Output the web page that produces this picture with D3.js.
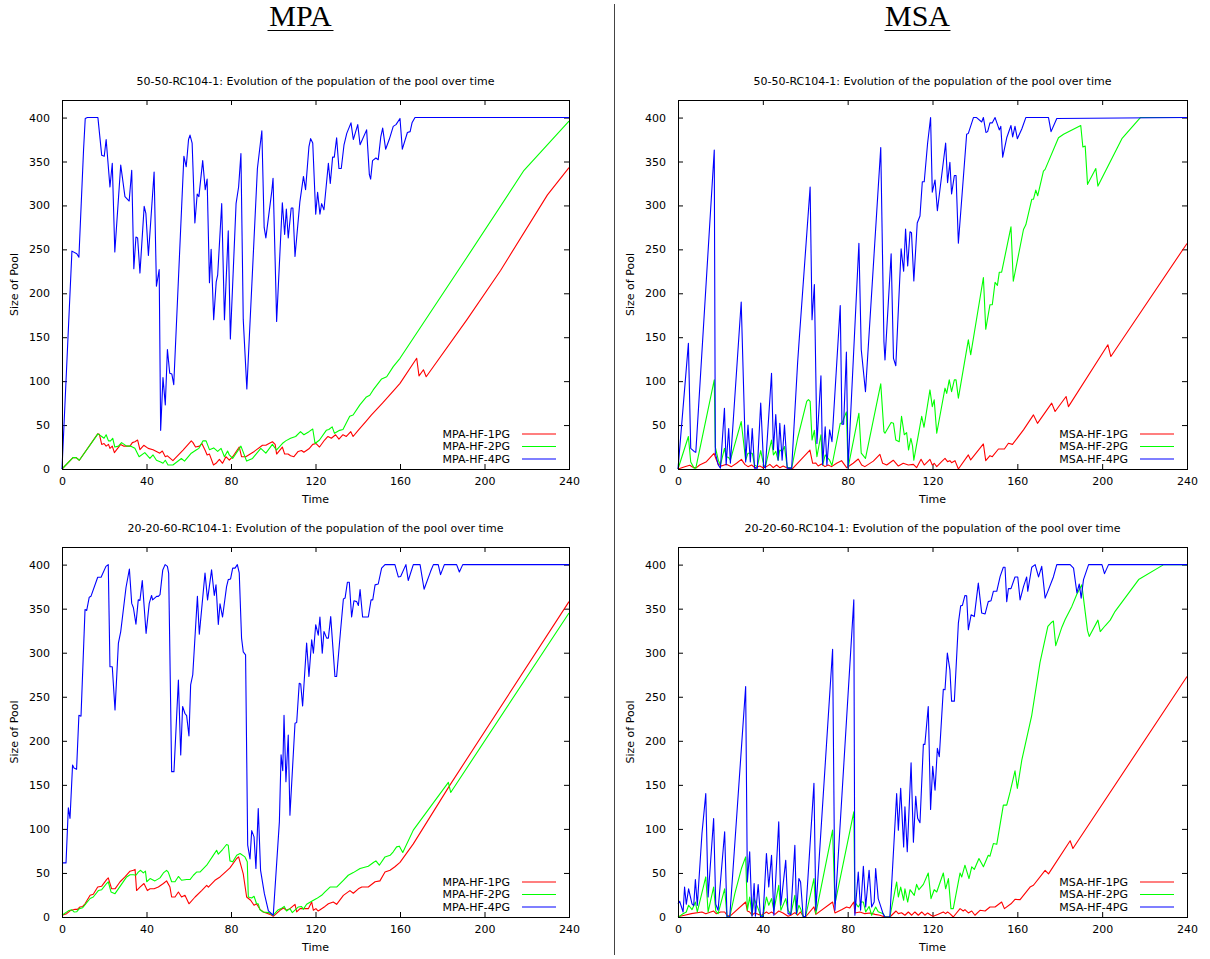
<!DOCTYPE html>
<html><head><meta charset="utf-8">
<script src="https://cdn.jsdelivr.net/npm/d3@7"></script>
<style>body{margin:0;background:#fff}svg{display:block}</style>
</head><body><svg id="c" width="1210" height="959"></svg>
<script>
const xTicks=[0,40,80,120,160,200,240];
const yTicks=[0,50,100,150,200,250,300,350,400];
const headers=["MPA","MSA"];
const subtitles=["50-50-RC104-1: Evolution of the population of the pool over time","20-20-60-RC104-1: Evolution of the population of the pool over time"];
const namesMPA=["MPA-HF-1PG","MPA-HF-2PG","MPA-HF-4PG"];
const namesMSA=["MSA-HF-1PG","MSA-HF-2PG","MSA-HF-4PG"];
const xLabel="Time", yLabel="Size of Pool";

// [time, size] pairs
const mpaA_1PG=[[0,0],[5.2,13],[6.7,13],[8.2,10],[16.9,40],[17.7,39.5],[18.8,28],[19.9,29],[20.9,26],[22,28],[22.7,23.5],[23.8,26],[24.8,18.6],[27.8,28],[29.3,26],[32.2,26],[33.3,30],[34.5,31],[35.8,33],[36.9,22],[38.7,27],[40.8,23.5],[43.1,22],[44.7,20],[46.3,18],[47.5,20.5],[48.9,14],[49.9,15],[52.5,9.5],[57.3,21.6],[61.2,32],[62,30],[63.2,25],[65.1,26],[66.2,29],[67.8,21],[68.7,16],[69.8,17],[71.7,4.5],[72.9,6.5],[74.5,11],[76,6.5],[77.6,14],[79.2,10],[80.8,14],[83.9,25],[85,14],[87,14],[91,20],[94.9,27],[96.5,27],[98,29],[99.6,31],[100.9,28],[101.6,17],[104.3,25],[105.4,17],[107,17],[108.2,15],[109.8,14],[111.8,20],[113.4,21],[114.5,19],[116.9,23],[118.7,28],[120.3,29],[121.9,25],[124.3,33],[125.9,37],[127.5,35],[129.5,39],[131.1,34],[133,39],[134.6,37],[136.7,42.5],[137.8,37],[140.2,44],[143.8,54],[146.5,61.5],[151.7,75],[157.3,90],[160,97.5],[167.9,126],[169,106],[171.1,113],[172.4,105],[191.7,170],[207.6,226],[229.8,312],[240,343]];
const mpaA_2PG=[[0,0],[5.2,13],[6.7,13],[8.2,10],[17,40],[18.8,37],[19.9,35],[20.9,39],[22,32],[23,32],[24,35],[25,25],[26.7,26],[28.2,30],[30.6,26],[32.6,26],[34.5,23.5],[36.5,14],[39.2,18.6],[41.6,12],[43.1,16],[44.7,10],[46.7,8],[47.8,6.5],[48.9,10],[50.2,4.5],[52.5,4.5],[56.5,12],[58,9],[61.2,18],[63.5,21.6],[64.8,23.5],[66.7,32],[68.2,32],[69.8,22],[71.8,24],[73.7,20],[75.3,23.5],[76.9,14],[78.4,20.5],[79.2,16],[80.8,12],[84.7,26],[87.4,9],[90.2,12],[94.1,23.5],[96.5,18],[99.6,28],[101.5,21.6],[104.3,29],[105.9,32],[108.2,35],[110.6,37],[112.9,42.5],[114.5,39],[116.9,42.5],[118.7,45.5],[119.8,29],[121.9,33],[125.1,44],[126.3,45],[127.9,48],[129,40.6],[131.4,44],[133,45],[136.2,60],[137.8,61.5],[141,73],[144.1,82],[145.7,84],[147.3,90],[151.3,102.5],[153.7,105],[156.8,116.5],[160,126],[191.7,241],[218.7,340],[240,396]];
const mpaA_4PG=[[0,0],[4.7,248],[7,245],[8,241],[10.2,363],[11,399],[12,400],[17,400],[18.8,357],[20,356],[20.9,375],[22.7,321],[23.8,348],[25,247],[27.8,346],[29.8,310],[31.8,305],[33,340],[34,228],[35,264],[35.8,263],[36.9,223],[38.9,299],[39.7,291],[40.9,243],[43.6,338],[44.7,208],[46,227],[46.7,44],[47.8,104],[48.9,73],[49.9,136],[51,109],[52,108],[52.9,96],[57.7,356],[58.8,344],[59.9,375],[60.6,380],[61.6,371],[62.9,280],[64,313],[64.8,310],[66.6,351],[67.8,318],[68.7,330],[69.8,212],[70.6,250],[71.8,170],[73,213],[73.7,221],[75.6,302],[76.9,170],[78.7,271],[79.7,148],[82.4,302],[83.6,321],[84.7,359],[85.8,170],[87.5,91],[92.5,342],[94.6,385],[95.7,275],[96.5,263],[99.3,316],[99.9,331],[101.2,208],[101.6,168],[104.3,303],[105.4,267],[106.2,296],[107.1,263],[108.5,297],[109.3,297],[110.3,242],[112.6,304],[114.3,333],[115.3,318],[116.9,367],[117.7,376],[118.7,371],[120.1,290],[121,315],[122.1,290],[122.9,302],[124,295],[126.1,348],[127,325],[128.1,355],[128.9,355],[130,377],[131.1,342],[132.2,342],[133.5,369],[134.8,382],[136.8,394],[137.9,375],[140,392],[141.1,369],[144.2,386],[145.5,335],[146.1,330],[147,351],[148.6,354],[149.7,352],[150.9,378],[151.8,388],[153.2,364],[154.9,375],[156.8,390],[158.1,392],[160,399],[161.1,364],[163.5,383],[164.8,384],[165.7,394],[167.1,400],[240,400]];

const msaA_1PG=[[0,0],[1.1,0.8],[3.2,2.6],[5.5,4.2],[7.1,1.9],[8.7,1.5],[10.2,4.6],[13.4,8.3],[17,17.8],[17.8,12.2],[18.9,5.7],[20.5,3.4],[22.8,5.3],[25.2,2.7],[27.6,6.5],[29.9,11],[31.5,5.3],[33,2.7],[34.7,4.6],[36.2,1.5],[38.6,3.4],[40.1,1.5],[41.7,2.7],[43.3,5.3],[44.9,1.5],[46.5,4.6],[48,1.5],[49.6,3.4],[51.2,1.5],[52.7,0.4],[54,0.5],[62.2,21.6],[63.5,6.5],[64.9,6.9],[66.1,3.4],[67.7,5.7],[69.3,2.7],[70.8,4.6],[72.4,2.7],[74.8,6.5],[77.1,9.5],[79.5,1.5],[82.6,6.5],[85,11.4],[86.6,4.6],[88.1,2.7],[92.1,9],[95.2,16.7],[96.5,6.5],[98.4,4.6],[101.5,10],[103.9,3.4],[106.2,6.5],[108.6,4.6],[111,5.3],[112.5,1.5],[114.6,11],[116.1,4.5],[118.8,11],[119.9,4.5],[120.8,6.5],[122,2.7],[124.3,8.4],[125.9,12],[127.1,8.4],[128.2,9.5],[129,7.2],[130.6,9.5],[132.2,0],[136.9,16],[138,10.3],[144,28.5],[145.1,9.5],[147.1,15.2],[148.2,14],[151.1,22.8],[153.9,22.8],[155.8,29.3],[157.7,28],[162.9,44.5],[167.6,61.6],[169.5,52],[176.2,75],[177.8,65.4],[183,82.5],[184.1,71],[202.7,141.4],[204.1,128],[240,256.7]];
const msaA_2PG=[[0,0],[4.9,37],[6,8],[7.6,1],[8.4,1],[17.1,101.5],[17.6,25],[19,10],[20,4.5],[21.9,23.5],[22.7,14],[23.9,13],[24.7,10],[29.8,54],[31.9,10],[33,18],[34.1,18],[35,18],[36.1,4.5],[37.4,2.7],[39,21],[40.4,4.5],[41.2,2.7],[44.1,33],[45,16],[46.1,20],[47.2,10],[48,21.6],[49.1,20],[50.2,25.5],[51.5,2],[53.6,1],[56.4,35],[60.7,77],[61.5,79],[62.3,77],[63.2,33],[64.3,44],[65.5,14],[67.4,39],[68.2,4.5],[69.4,16],[71.5,10],[72.6,4],[76.5,52],[77.3,52],[79.4,65],[80.2,1.5],[85.3,63.5],[86.4,18],[88.4,12],[95.6,97],[97.1,42.5],[97.6,40.7],[100.5,53],[101.6,52],[102.7,33],[104.3,31],[105.4,60],[106.7,39],[107.8,41.5],[108.7,21.6],[109.8,35],[110.6,26],[111.2,10],[114.9,60],[116,47.5],[118.8,90],[119.9,71],[120.8,78.7],[122,40.7],[125.9,92],[126.7,86],[127.9,101.5],[129,88],[130.3,101.5],[131.1,101.5],[132.2,80.6],[136.9,147],[138,130],[144,218],[145.1,159],[147.1,187],[148.2,187],[149.5,212.5],[150.6,209],[151.5,224],[152.6,224],[157,275.7],[158.1,213.7],[162.9,272.6],[164,278],[166.8,307],[167.6,307],[168.7,317.5],[169.6,311],[172.3,339],[173.1,341],[179.4,377],[181.8,381],[189.9,391],[190.9,366.5],[192,367.7],[193.1,324],[197,342],[198,322],[209.3,376],[218,400],[240,400]];
const msaA_4PG=[[0,0],[4.9,143],[6,23.5],[7.6,20],[8.4,19],[17.1,363],[17.6,18],[19,4.5],[20,1],[21.9,69],[22.7,4.5],[23.9,46],[24.7,6.5],[29.8,190],[31.9,8],[33,50],[34.1,8],[35,46],[36.1,1],[37.4,1],[39,75],[40.4,3],[41.2,1],[44.1,109],[45,22],[46.1,62],[47.2,10],[48,52],[49.1,10],[50.2,50],[51.5,1],[53.6,1],[56.4,121],[57.2,149],[62.3,321],[63.2,170],[64.3,210],[65.5,29],[67.4,106],[68.2,5],[69.4,48],[70.2,4.5],[71.5,44.5],[72.6,31],[76.5,186],[77.3,51],[78.1,51],[79.4,133],[80.2,1.5],[85.3,257],[86.4,136],[88.4,88],[95.6,366],[97.1,145],[97.6,124],[100.5,245],[101.6,126],[102.7,117.5],[105.2,250.5],[106.4,225],[107.3,273],[108.3,231],[109.4,270],[110.1,269],[111.2,214],[112.8,280],[114.1,288],[115.2,327],[116.1,327],[117.7,371],[119.1,400],[119.9,315],[121.2,329],[122.3,294],[126.2,371],[127.1,326],[128.2,349],[129,313],[130.3,334],[131.1,334],[132.2,257],[136.1,381],[136.9,382],[139.3,400],[140.8,400],[143.2,395],[144,400],[145.2,383],[146,384],[147.1,394],[148.2,394],[149.5,400],[151.5,386],[152.2,390],[153.1,355],[155,377],[157,391],[157.8,378],[158.9,390],[160,376],[162.1,387],[164,400],[174.7,400],[175.9,384],[178.6,399],[240,400]];

const mpaB_1PG=[[0,2],[2.2,3.8],[3.8,7],[6.2,8.7],[7.3,8.7],[8.5,11.4],[9.8,12],[10.9,15],[13.3,24.6],[14.8,25.8],[16.9,34],[18.8,35],[21.1,42.5],[21.9,44.4],[23.5,32],[25.1,32],[27.5,40],[29.8,45.5],[32.2,52],[33.8,53],[34.6,54],[35.3,30],[36.9,34],[38.8,38],[40.4,30],[41.7,32],[43.6,32],[45.6,34],[48,38],[49.5,41],[51.1,34],[51.9,22.7],[53.5,22.7],[55.1,28.4],[56.6,22.7],[58.2,24.6],[60.1,15],[63,22.7],[66.1,30],[68.5,36],[69.3,34],[72.4,41.7],[74.8,45.5],[76.4,49],[79.5,55.7],[82.7,66.4],[83.6,68.2],[85.8,49],[87.4,22.7],[89.3,19],[90.9,13.3],[92.1,15],[93.7,8.7],[95.3,5.7],[98.5,3],[100,0.8],[103.2,7.6],[104.8,10.2],[106.3,7.6],[107.9,9.5],[110.3,14.4],[111.1,5.7],[112.7,9.5],[116.6,9.5],[118.2,17],[119,7.6],[120.2,9.5],[121.3,6.8],[124.5,12],[126.1,15],[128.4,17],[130,14.4],[133.2,24.6],[136.3,30],[137.9,27],[140.3,32],[141.9,34],[145,34],[148.2,40],[150.5,41],[152.9,51],[155.3,53],[157.6,57],[160,62],[166.3,83],[183.7,150],[240,358]];
const mpaB_2PG=[[0,2],[3,7],[4.6,8.3],[5.7,5.7],[7,6],[8.2,9.5],[9.8,10.6],[13.3,21],[14.8,22.7],[17.2,30],[18.8,31],[21.1,38],[21.9,40],[23.2,28.4],[25.1,26.5],[30.6,45.5],[32.2,48],[33.8,48],[35,47.4],[36.1,51],[37.2,53],[38.5,50],[39.5,52],[40.1,40],[41.7,43.6],[44,41],[46.4,44.4],[48,50],[49.5,53],[50.3,51],[51.9,40],[53.5,40],[55.1,46],[56.6,41.7],[59,42.5],[60.6,42.5],[62.2,47.4],[63.7,51],[65.3,51],[68.5,58.8],[71.6,70],[73.2,75.8],[74,71.3],[76,76.6],[77.9,82.3],[78.7,81.5],[79.5,63.7],[80.8,62.6],[82.7,70],[84.3,72],[86.6,68.2],[87.7,62.6],[88.2,22.7],[89.8,21.6],[90.9,23.5],[92.1,15],[92.9,15],[93.7,8.3],[95.3,5.7],[97.7,5],[100,2],[102.4,8.3],[103.7,9.5],[105.2,12],[106.3,6.8],[107.9,9.5],[109,5],[111.9,11.4],[113.4,12],[114.2,8.7],[115.8,14.4],[118.2,17.8],[120.5,20.9],[122.9,24.6],[124.5,28.4],[126.9,34],[130,34],[133.2,41.7],[135.5,47.4],[137.9,50.4],[141.1,55],[145,57.6],[147.4,61.8],[148.6,63.7],[150.2,58.8],[152.9,68.2],[155.3,70],[156.8,74],[158.4,79.6],[159.7,80.4],[161.3,73.2],[166.3,98.6],[182.9,152.8],[184,141.4],[240,345]];
const mpaB_4PG=[[0,61.4],[1.9,61.4],[3,124],[3.8,112],[5,172.5],[5.7,169],[6.9,167.6],[8,229],[9,228],[10.9,349],[11.7,348],[12.9,363],[13.7,364],[16.9,385.6],[18.5,385.6],[20.8,398],[21.9,400],[22.7,284],[23.8,284],[25.1,235],[26.7,311],[27.8,324],[30.3,374],[31.9,395],[33,356],[33.8,351],[35,332.5],[36.1,360],[36.9,359.4],[38,382],[39.8,322],[41.3,356],[42.4,365],[42.9,360],[44.8,364],[45.6,364],[46.4,366],[47.7,394],[48.8,400],[49.9,398],[50.5,390],[51.9,165],[53,165],[55.1,269],[56.2,184],[57.1,239],[58.2,231],[59,228.6],[60.1,205.5],[60.9,263.5],[61.9,275],[64.1,364],[65,321],[67.7,390.5],[68.9,360],[70.8,394],[72.1,365],[72.9,377],[74,332],[74.8,355.6],[76,340.5],[77.9,375],[78.7,383],[79.8,383.7],[80.8,396],[81.9,396],[83,400],[83.9,390.5],[85,316.6],[85.8,301],[86.9,297.6],[87.9,81.5],[89,66],[89.8,98],[90.9,91],[91.8,55],[92.9,123],[94,53],[95.8,26.5],[97.7,7],[100,2],[102.9,108],[103.7,184],[104.5,166],[105.1,229],[106,153.6],[107.1,206.6],[107.9,115.6],[110.3,220],[111.1,220.7],[112.3,265.4],[113,264.6],[113.9,239.6],[115.8,311],[116.9,273],[118.2,314.7],[119,299.5],[120.1,331.8],[121.3,320],[122.1,340.5],[123.2,299.5],[124,324],[125.3,316.6],[126.1,316.6],[127.2,341],[129.2,273],[130,273],[131.9,326],[133.2,361],[134,362],[135.1,380],[136,380],[137.1,340.5],[138.2,359],[139.5,358],[140.3,353.7],[141.1,371.6],[142.3,340.5],[145,340.5],[146.3,360],[147.1,360],[148.2,377],[149.7,378],[151.3,396],[152.9,400],[157.6,400],[159.2,386],[160.3,386.5],[162.8,400],[163.9,382],[166.3,400],[169.5,400],[171.4,372],[174.5,392.4],[175.8,400],[178.1,400],[179.2,388.6],[181,400],[186.8,400],[188.1,391.6],[189.7,400],[240,400]];

const msaB_1PG=[[0,0],[0.8,0.8],[3.1,2],[6.3,3.8],[11.3,5.7],[13.1,3.8],[16.8,6.8],[18,3.8],[20.1,5.7],[22,5.7],[23.1,2],[24.4,0.8],[31.9,17],[32.7,6.8],[33.8,5.7],[34.9,2],[36.2,4.6],[37.8,3],[39.4,2],[41.7,5.7],[42.8,3.8],[44.1,5.7],[45.7,3],[47.5,6.8],[49.5,4.6],[51.9,0.8],[53.2,2],[55.1,5],[56.4,2],[57.8,5.7],[59,0.8],[60.1,0],[64.1,11.4],[65,3],[72.9,17],[74,4.6],[77.1,8.3],[79.5,11.4],[81,10.3],[82.9,17],[83.4,4.6],[85.8,5.7],[88.1,3.8],[90.5,4.6],[92.9,3],[95.2,2],[97.6,0],[99.9,0],[102.8,6.8],[103.9,3.8],[105.4,4.8],[107,2],[108.6,5.7],[110.2,2],[111.7,5.7],[113.3,2],[114.9,5.7],[116.4,2],[117.7,4.6],[119.3,2],[120.4,0.8],[122.7,3],[125.1,5.7],[126.2,3.8],[127.1,5.7],[128.2,3.8],[129.8,0],[133,9.5],[134.5,6.8],[135.3,8.3],[136.9,4.6],[138.5,6.8],[140,2],[142.4,7.6],[144.8,6.8],[147.1,11.4],[149.5,11.4],[152.6,17],[153.9,9.5],[157,15],[158.9,20],[161.3,19.7],[166,34],[167.6,36],[173.1,53],[174.7,49],[184.9,86.5],[186.2,77.7],[240,273]];
const msaB_2PG=[[0,0],[0.8,0.8],[2.4,3.8],[3.9,5.7],[5,13.3],[6.6,8.3],[8.2,17],[9.1,5.7],[13.1,45.5],[14.2,5.7],[16.8,34],[17.8,6.8],[18.9,3.8],[22,32],[23.1,0.8],[24.4,0],[26.8,26.5],[29.9,55],[31.9,68.2],[32.7,7.6],[33.8,22.7],[34.9,2],[35.9,20.9],[37.8,9.5],[38.9,2],[40.1,1],[41.7,22.7],[42.8,13.3],[44.1,20.9],[45.2,7.6],[47.5,36],[48.5,7.6],[50.8,20.9],[51.9,7.6],[53.2,3],[55.1,24.6],[55.9,3],[57,13.3],[57.8,9.5],[59,0.8],[60.1,0],[64.1,43.6],[65,3.8],[72.9,98.6],[74,15],[82.9,119.4],[83.4,17],[85,11.4],[86.4,17],[87.4,17],[88.5,5.7],[90.1,12],[91.3,2],[93.2,11.4],[94.4,6],[96.8,3.8],[97.6,0],[99.9,0],[103.1,39.8],[103.9,22.7],[105,34],[106.4,19],[107,32],[108.3,17],[109.4,31],[111.4,24.6],[112.5,37],[113.6,31],[115.7,37],[118,50],[119.3,20.9],[120.8,31],[122,28.4],[125.1,50],[126.2,32],[127.5,43.6],[128.7,9.5],[129.8,9.5],[133,50],[133.8,45.5],[135.3,58.8],[137.2,43.6],[138.5,57],[139.7,54],[141.9,66.4],[144,57],[146.3,70],[147.1,69],[148.7,83.4],[150.3,82.5],[153.4,127],[155,127],[156.6,142],[158.9,166],[160,146],[162.1,178],[166.8,229],[170.7,289],[174.4,330],[175.9,334],[177,336],[178.1,308],[181,329],[182.6,338],[185.7,352.6],[188.1,366.6],[190.4,377],[193.1,325],[193.9,318.5],[198,337],[199.1,324],[201.4,330.6],[203.8,337],[206.1,347],[217.2,383],[229,400],[240,400]];
const msaB_4PG=[[0,15],[0.8,17.8],[2.4,5.7],[3.1,34],[3.9,14.4],[5,32],[6.6,15],[7.4,13],[8.2,42.5],[9.1,13],[11.3,94.8],[13.1,140],[14.2,22.7],[16.8,111.8],[17.8,14.4],[18.9,7.6],[22,96.7],[23.1,0],[24.4,0],[31.9,261.6],[32.7,39.8],[33.8,74],[34.9,0.8],[35.9,38],[36.5,0.8],[37.8,36.8],[38.9,0],[40.1,0.8],[41.7,72],[42.8,34],[44.1,70],[45.2,2],[47.5,108],[48.5,13.3],[50.8,64.5],[51.9,3.8],[53.2,3],[55.1,81.5],[55.9,3.8],[57,43.6],[57.8,39.8],[59,0.8],[60.1,0],[64.1,151.7],[65,7.6],[72.9,304],[74,7.6],[82.9,360],[83.4,2],[85,51],[86.1,7.6],[87.4,57.6],[88.5,11.4],[90.1,53],[91.3,11.4],[92.5,17],[93.2,55],[94.4,20.9],[96.8,3],[97.6,0],[99.9,0],[103.1,140],[103.9,98.6],[105,146],[106.4,79.6],[107,125],[108.1,74],[109.9,175],[111,85],[112.1,137],[113,112],[114.1,107],[115.7,196],[116.4,196],[118,239],[119.1,122],[120.1,171],[121.2,144],[122.3,191.5],[123.2,182],[125.1,258.6],[125.9,258],[127,299.5],[128.2,280.6],[129,245],[130.3,245],[132.2,333.6],[133.3,353.4],[134.1,353.7],[135.3,365],[136.1,364.7],[136.9,326],[138.2,343],[139.7,341],[141.6,379],[143.2,345],[144.8,344],[146.3,358],[147.6,359],[148.7,369.7],[150.3,369.7],[151.9,386.7],[153.4,397],[154.2,397],[155,358],[155.8,372.7],[157,372.7],[158.9,386],[160.2,386],[161.3,360],[162.9,375],[164.4,386],[164.9,369.7],[166.8,397],[168.4,400],[170,386],[171.5,398],[173.1,362],[174.7,371.6],[177,386],[178.6,400],[184.9,400],[186.5,396],[188.1,367.8],[189.2,378],[190.1,362],[191.2,383],[193.6,400],[199.9,400],[201.1,389.8],[203,400],[240,400]];

const colors=["#ff0000","#00ff00","#0000ff"];

const svg=d3.select("#c");
const FONT='"DejaVu Sans", sans-serif';
const FS=11;

const panels=[
  {x0:62,x1:569,y0:100,y1:469,title:subtitles[0],names:namesMPA,data:[mpaA_1PG,mpaA_2PG,mpaA_4PG]},
  {x0:678,x1:1187,y0:100,y1:469,title:subtitles[0],names:namesMSA,data:[msaA_1PG,msaA_2PG,msaA_4PG]},
  {x0:62,x1:569,y0:547,y1:917,title:subtitles[1],names:namesMPA,data:[mpaB_1PG,mpaB_2PG,mpaB_4PG]},
  {x0:678,x1:1187,y0:547,y1:917,title:subtitles[1],names:namesMSA,data:[msaB_1PG,msaB_2PG,msaB_4PG]}
];

// headers
[[300.5,headers[0]],[917.5,headers[1]]].forEach(([cx,t])=>{
  svg.append("text").attr("x",cx).attr("y",26).attr("text-anchor","middle")
    .attr("font-family",'"Liberation Serif", serif').attr("font-size",30).attr("fill","#000").text(t);
  svg.append("line").attr("x1",cx-33).attr("x2",cx+33).attr("y1",30.5).attr("y2",30.5).attr("stroke","#000").attr("stroke-width",1);
});
svg.append("line").attr("x1",614.5).attr("x2",614.5).attr("y1",4).attr("y2",955).attr("stroke","#444").attr("stroke-width",1);

panels.forEach(p=>{
  const x=d3.scaleLinear().domain([0,240]).range([p.x0,p.x1]);
  const y=d3.scaleLinear().domain([0,420]).range([p.y1,p.y0]);
  const g=svg.append("g");

  const style=sel=>{sel.select(".domain").remove();sel.selectAll("line").attr("stroke","#000");
    sel.selectAll("text").attr("font-family",FONT).attr("font-size",FS).attr("fill","#000");};

  g.append("g").attr("transform",`translate(0,${p.y1})`)
    .call(d3.axisBottom(x).tickValues(xTicks).tickSize(-5).tickSizeOuter(0).tickPadding(8)).call(style);
  g.append("g").attr("transform",`translate(0,${p.y0})`)
    .call(d3.axisTop(x).tickValues(xTicks).tickSize(-5).tickSizeOuter(0).tickFormat("")).call(style);
  g.append("g").attr("transform",`translate(${p.x0},0)`)
    .call(d3.axisLeft(y).tickValues(yTicks).tickSize(-5).tickSizeOuter(0).tickPadding(12)).call(style);
  g.append("g").attr("transform",`translate(${p.x1},0)`)
    .call(d3.axisRight(y).tickValues(yTicks).tickSize(-5).tickSizeOuter(0).tickFormat("")).call(style);

  const line=d3.line().x(d=>x(d[0])).y(d=>y(d[1]));
  p.data.forEach((s,i)=>{
    g.append("path").datum(s).attr("d",line).attr("fill","none")
      .attr("stroke",colors[i]).attr("stroke-width",1.1).attr("stroke-linejoin","round");
  });

  g.append("rect").attr("x",p.x0+0.5).attr("y",p.y0+0.5).attr("width",p.x1-p.x0).attr("height",p.y1-p.y0)
    .attr("fill","none").attr("stroke","#000").attr("stroke-width",1);

  // legend
  p.names.forEach((n,i)=>{
    const ly=p.y1-35+i*12.5;
    g.append("text").attr("x",p.x1-59).attr("y",ly).attr("dy","0.35em").attr("text-anchor","end")
      .attr("font-family",FONT).attr("font-size",FS).attr("fill","#000").text(n);
    g.append("line").attr("x1",p.x1-47).attr("x2",p.x1-13).attr("y1",ly).attr("y2",ly)
      .attr("stroke",colors[i]).attr("stroke-width",1.1);
  });

  const cx=(p.x0+p.x1)/2;
  g.append("text").attr("x",cx).attr("y",p.y0-15).attr("text-anchor","middle")
    .attr("font-family",FONT).attr("font-size",FS).attr("fill","#000").text(p.title);
  g.append("text").attr("x",cx).attr("y",p.y1+34).attr("text-anchor","middle")
    .attr("font-family",FONT).attr("font-size",FS).attr("fill","#000").text(xLabel);
  const cy=(p.y0+p.y1)/2;
  g.append("text").attr("transform",`translate(${p.x0-44},${cy}) rotate(-90)`).attr("text-anchor","middle")
    .attr("font-family",FONT).attr("font-size",FS).attr("fill","#000").text(yLabel);
});
</script></body></html>
